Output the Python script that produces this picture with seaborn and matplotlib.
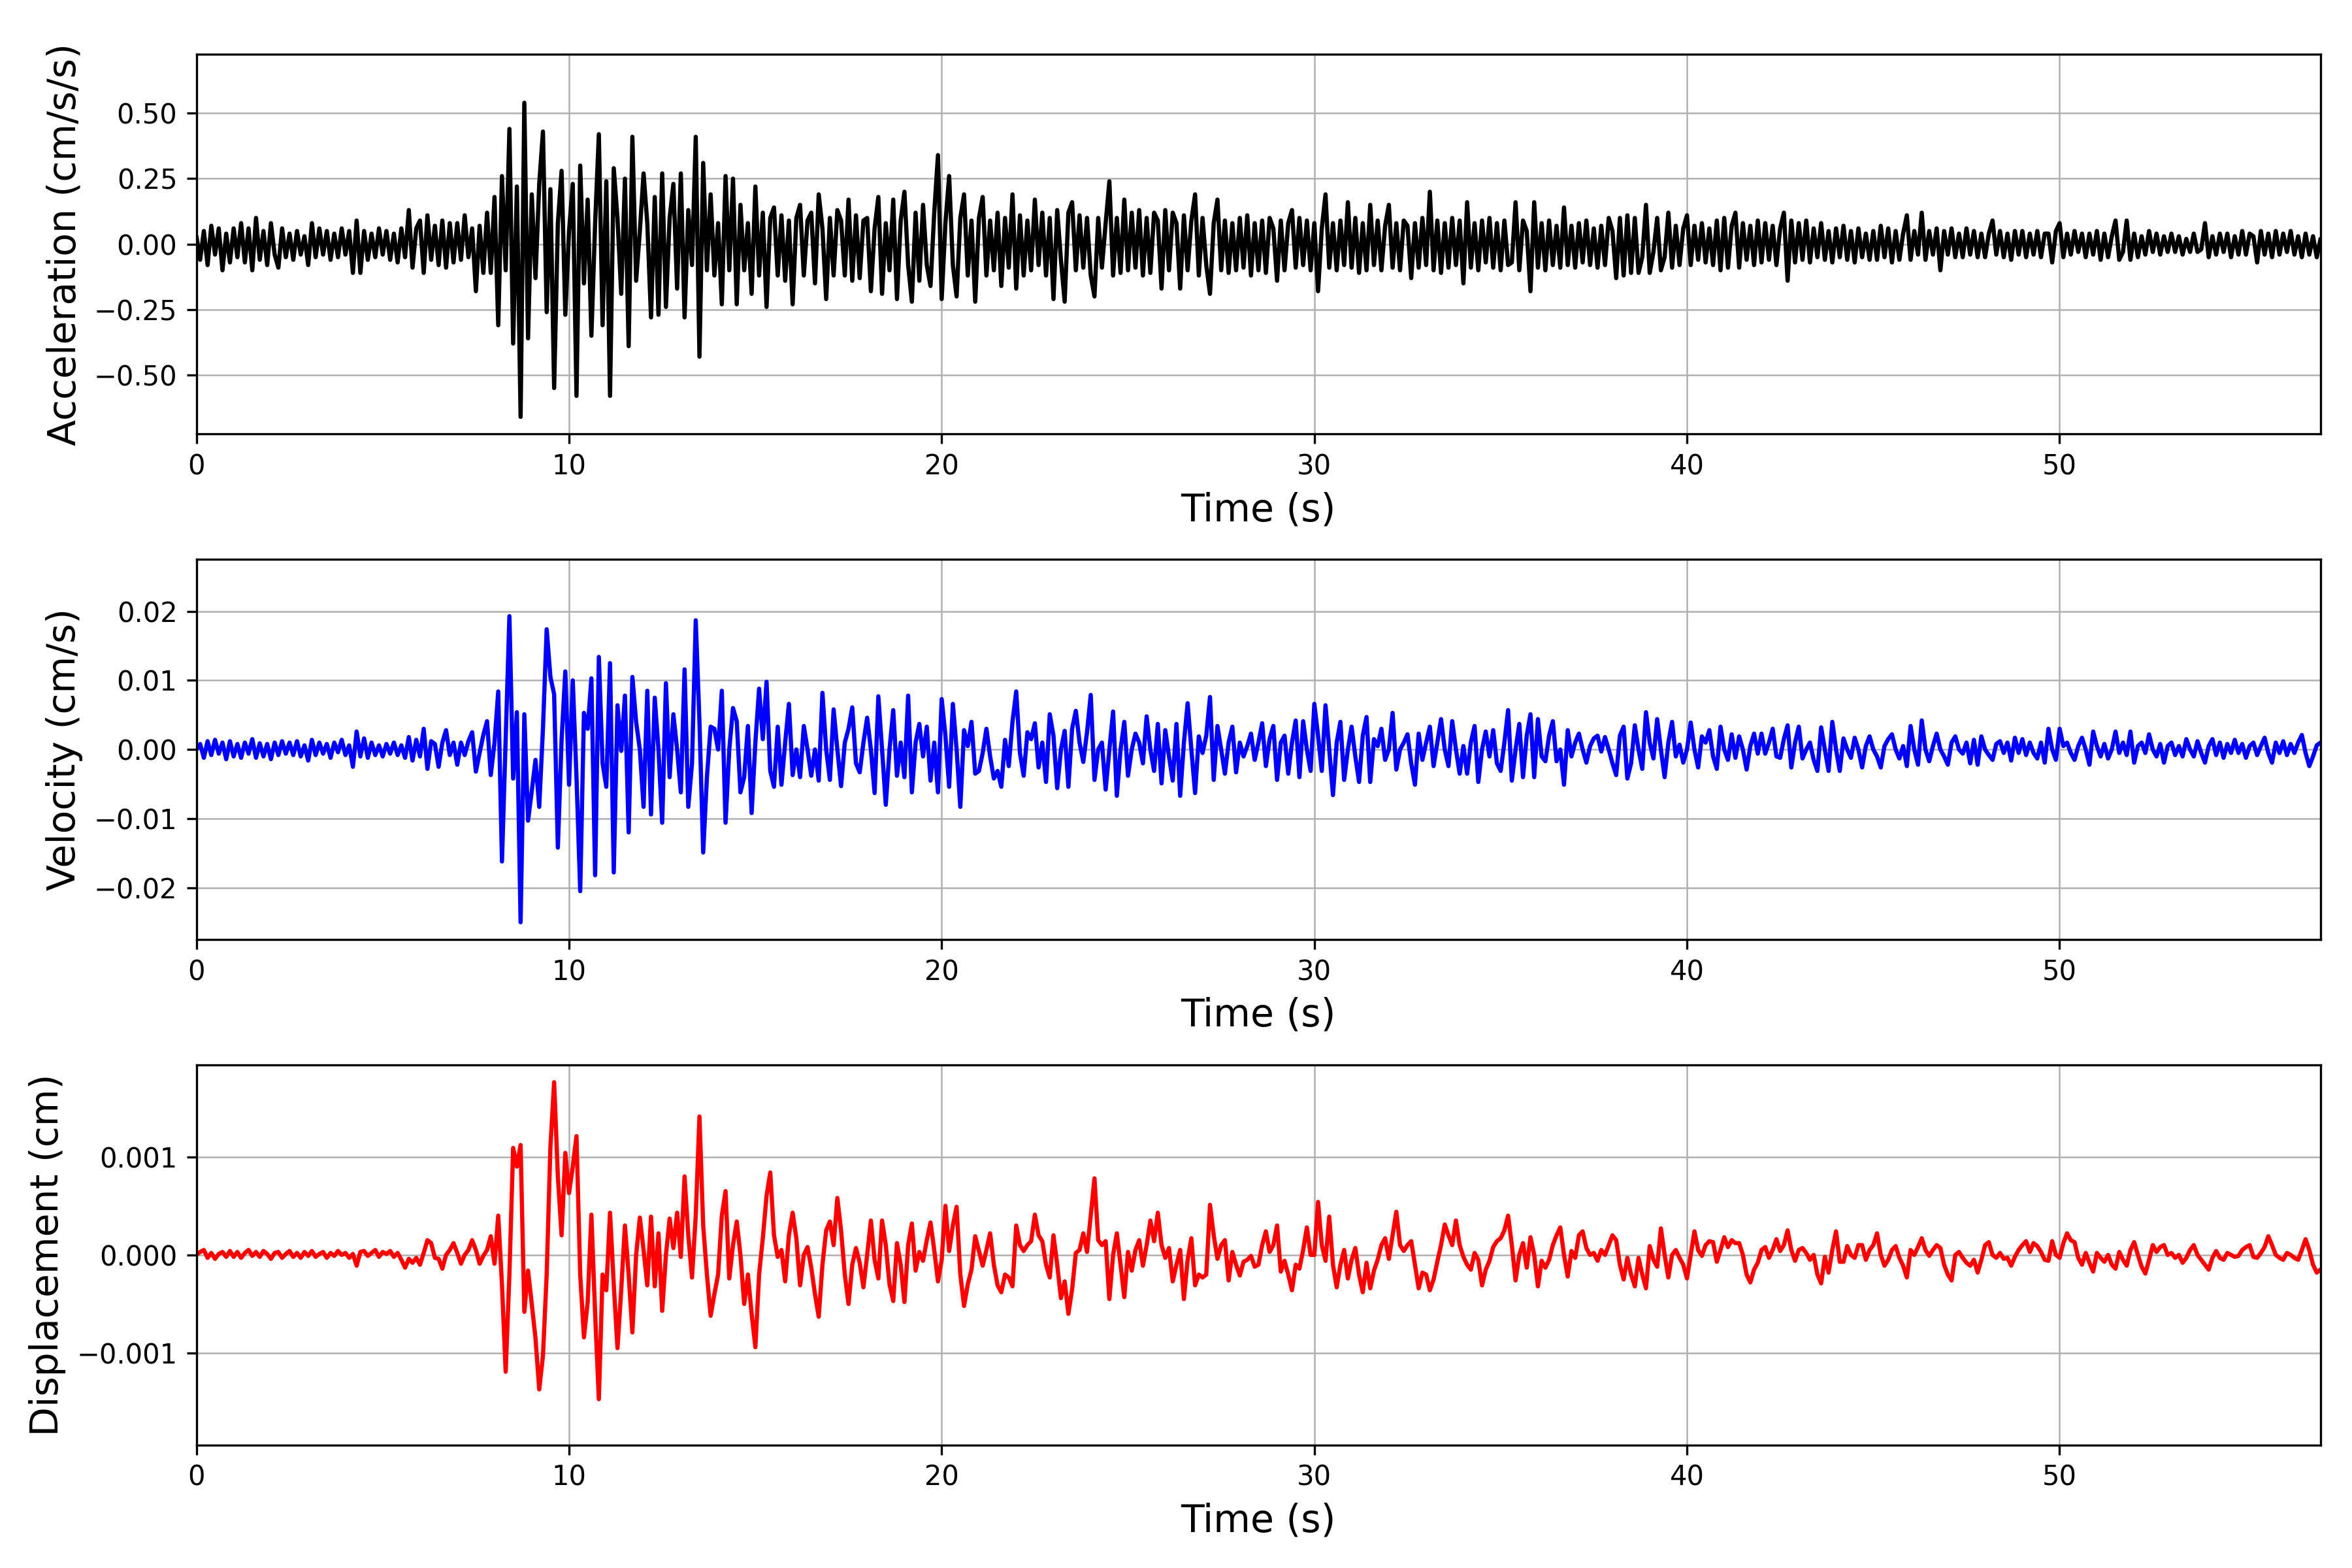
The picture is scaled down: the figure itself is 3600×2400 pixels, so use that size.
import numpy as np
import pandas as pd
import matplotlib
matplotlib.use("Agg")
import matplotlib.pyplot as plt
import seaborn as sns

DT = 0.1
CHUNK_STARTS = [0, 10, 20, 30, 40, 50]

# Acceleration, in units of 0.01 cm/s/s
ACC_UNIT = 0.01
acc_00_10 = [3, -6, 5, -8, 7, -4, 6, -10, 4, -7,
             6, -5, 8, -7, 6, -10, 10, -6, 5, -8,
             8, -4, -9, 6, -5, 4, -6, 5, -4, 3,
             -8, 8, -5, 6, -4, 5, -6, 4, -5, 6,
             -4, 5, -11, 9, -11, 5, -6, 4, -5, 6,
             -4, 5, -6, 4, -7, 6, -5, 13, -9, 6,
             9, -11, 11, -6, 7, -8, 9, -9, 8, -7,
             8, -6, 11, -5, 6, -18, 7, -11, 12, -11,
             18, -31, 26, -10, 44, -38, 22, -66, 54, -36,
             19, -13, 23, 43, -26, 21, -55, 8, 28, -27]
acc_10_20 = [5, 23, -58, 30, -15, 17, -35, 8, 42, -31,
             24, -58, 29, 10, -19, 25, -39, 41, -14, 5,
             27, 8, -28, 18, -27, 27, -24, 10, 23, -17,
             27, -28, 13, -8, 41, -43, 31, -10, 19, -12,
             8, -23, 26, -10, 25, -23, 15, -10, 8, -19,
             22, -12, 12, -24, 10, 14, -12, 11, -14, 9,
             -23, 10, 15, -12, 9, 12, -15, 19, 6, -21,
             10, -12, 13, 9, -12, 17, -14, 11, -13, 9,
             10, -18, 6, 18, -19, 8, -10, 17, -21, 9,
             20, -8, -22, 12, -14, 15, -8, -16, 12, 34]
acc_20_30 = [-21, 8, 26, -8, -20, 10, 19, -12, 9, -22,
             10, 18, -12, 9, -10, 12, -16, 10, -9, 19,
             -17, 11, -12, 9, -10, 17, -8, 12, -12, 10,
             -21, 13, -6, -22, 12, 16, -10, 11, -9, 10,
             -12, -20, 10, -9, 8, 24, -12, 10, -11, 17,
             -10, 12, -9, 13, -12, 10, -11, 12, 9, -17,
             13, -10, 12, 8, -17, 11, -10, 9, 19, -12,
             10, -8, -19, 8, 17, -10, 9, -11, 8, -10,
             10, -9, 11, -12, 8, -10, 9, -11, 10, 6,
             -14, 9, -10, 8, 13, -9, 10, -8, 9, -10]
acc_30_40 = [8, -18, 6, 19, -9, 8, -10, 9, -8, 16,
             -9, 10, -11, 8, -10, 15, -8, 9, -10, 7,
             15, -9, 8, -10, 9, 7, -13, 8, -9, 10,
             -8, 20, -10, 9, -11, 8, -9, 10, -8, 9,
             -15, 16, -9, 8, -10, 9, -7, 10, -9, 8,
             -10, 9, -8, -7, 16, -10, 9, 5, -18, 16,
             -9, 8, -10, 9, -8, 7, -9, 14, -8, 7,
             -9, 8, -7, 9, -8, 6, -9, 7, -8, 10,
             5, -13, 10, -12, 11, -11, 10, -11, -5, 15,
             -11, -3, 10, -10, -5, 12, -9, 7, -8, 6]
acc_40_50 = [11, -8, 7, -6, 8, -7, 6, -8, 9, -10,
             10, -9, 7, 12, -9, 8, -6, 7, -8, 9,
             -7, 8, -6, 7, -8, 6, 12, -14, 9, -7,
             8, -6, 9, -7, 6, -5, 8, -6, 5, -7,
             6, -5, 7, -6, 5, -7, 6, -5, 4, -6,
             5, -6, 7, -5, 6, -7, 5, -6, 4, 11,
             -6, 5, -4, 12, -6, 5, -4, 6, -10, 5,
             -4, 6, -5, 4, -5, 6, -4, 5, -5, 4,
             -5, 4, 9, -4, 5, -5, 4, -6, 5, -4,
             5, -5, 4, -4, 5, -5, 4, 4, -7, 5]
acc_50_57 = [8, -5, 4, -4, 5, -3, 4, -5, 4, -4,
             5, -6, 4, -5, 3, 9, -6, -3, 9, -6,
             4, -5, 3, -4, 5, -3, 4, -4, 3, -3,
             4, -3, 3, -4, 2, -3, 4, -3, -2, 8,
             -5, 3, -4, 4, -3, 4, -5, 3, -4, 5,
             -4, 4, 3, -7, 5, -4, 4, -5, 5, -4,
             4, -3, 5, -4, 3, -5, 4, -4, 3, -5,
             2]

# Velocity, in units of 1e-4 cm/s
VEL_UNIT = 1e-4
vel_00_10 = [0, 8, -12, 12, -8, 14, -6, 10, -14, 12,
             -10, 8, -12, 10, -6, 15, -12, 9, -10, 8,
             -14, 10, -8, 12, -6, 10, -8, 12, -10, 6,
             -16, 14, -8, 10, -6, 8, -12, 10, -4, 14,
             -8, 6, -25, 26, -10, 16, -12, 10, -8, 6,
             -10, 8, -6, 10, -8, 6, -12, 18, -16, 14,
             -10, 30, -28, 12, 8, -25, 10, 28, -8, 10,
             -22, 10, -8, 12, 25, -32, -5, 21, 41, -37,
             10, 84, -162, 15, 193, -42, 54, -250, 51, -103,
             -60, -15, -83, 30, 174, 105, 80, -142, 14, 113]
vel_10_20 = [-51, 100, -40, -205, 53, 30, 103, -182, 134, -20,
             -54, 125, -178, 64, -2, 78, -120, 105, 40, 0,
             -83, 85, -94, 75, 0, -106, 96, -40, 51, 0,
             -62, 116, -83, -20, 187, 40, -149, -40, 33, 30,
             0, 85, -106, 0, 60, 41, -62, -40, 34, -92,
             10, 88, 15, 98, -31, -54, 33, -51, 10, 66,
             -37, 0, -40, 34, 0, -38, 0, -45, 82, 0,
             -44, 58, 0, -53, 10, 30, 61, -20, -33, 10,
             46, 0, -63, 77, 0, -80, 0, 57, -38, 10,
             -40, 78, -62, 10, 37, -10, 33, -45, 10, -62]
vel_20_30 = [73, 20, -54, 66, 0, -83, 28, 5, 40, -35,
             -31, -5, 30, -10, -42, -31, -54, 14, -24, 40,
             84, -5, -38, 25, 15, 38, -26, 10, -47, 51,
             20, -56, 0, 27, -54, 30, 56, 10, -18, 25,
             79, -44, 0, 10, -58, 0, 55, -67, 0, 40,
             -38, 0, 23, 10, -20, 48, 0, -31, 37, -49,
             28, -10, -45, 37, -67, 10, 67, 0, -63, 19,
             -5, 20, 76, -44, 34, 0, -35, 10, 33, -33,
             10, -10, 5, 23, -15, 10, 38, -24, 15, 34,
             -44, 10, 20, -35, 10, 42, -40, 41, 0, -31]
vel_30_40 = [66, 20, -31, 64, 0, -66, 10, 40, -44, 0,
             33, -10, -47, 20, 47, -47, 15, 5, 30, -15,
             0, 53, -29, 0, 10, 22, -20, -51, 23, -15,
             10, 33, -24, 10, 44, 0, -24, 41, 0, -35,
             5, -35, 10, 34, -47, 0, 26, -10, 28, -20,
             -31, 10, 57, -45, 0, 37, -40, 20, 51, -40,
             44, -10, -17, 20, 41, -17, 0, -51, 28, -10,
             10, 23, 0, -19, 5, 16, 20, -3, 18, 0,
             -20, -37, 20, 33, -42, -20, 35, 0, -28, 54,
             10, -13, 44, 0, -40, 10, 40, -10, 7, -19]
vel_40_50 = [0, 39, 0, -26, 19, 10, 28, -10, -28, 33,
             0, -15, 22, -12, 19, 0, -29, 5, 23, -6,
             23, -6, 10, 30, -10, -12, 15, 35, -26, 10,
             33, -13, 0, 10, -15, -31, 32, 0, -31, 40,
             0, -31, 16, 0, -12, 17, 0, -26, 5, 19,
             0, -10, -26, 5, 15, 22, 0, -13, 5, -24,
             34, 0, -22, 42, 0, -17, 5, 23, 0, -10,
             -22, 10, 19, 0, -6, 10, -20, 14, -22, 19,
             0, -8, -15, 8, 12, -5, 10, -16, 17, -5,
             15, -8, 10, -5, -13, 10, -19, 30, 0, -15]
vel_50_57 = [30, 5, 10, -5, -15, 5, 17, 0, -22, 26,
             5, -10, 8, -13, 0, 26, -5, 10, -8, 26,
             -19, 5, 10, -5, 22, 0, -10, 8, -19, 5,
             10, -8, 5, -10, 15, 0, -10, 12, -5, -19,
             5, 15, -8, 10, -12, 8, -5, 14, -5, 8,
             -12, 5, 10, -8, 5, 17, -5, -19, 10, -5,
             12, -8, 8, -5, 10, 21, -5, -24, -10, 6,
             10]

# Displacement, in units of 1e-5 cm
DISP_UNIT = 1e-5
disp_00_10 = [0, 3, 5, -3, 2, -4, 1, 3, -2, 4,
              -2, 3, -3, 2, 5, -1, 3, -2, 4, 1,
              -4, 2, 3, -3, 1, 4, -2, 2, -3, 3,
              -1, 4, -2, 1, 3, -3, 2, -1, 4, 0,
              2, -3, 1, -11, 3, 4, -1, 2, 5, -2,
              3, 1, 4, -2, 2, -5, -13, -4, -8, -3,
              -10, 2, 15, 12, -3, -4, -14, 0, 5, 12,
              2, -9, 0, 5, 15, 5, -9, -1, 5, 19,
              -9, 40, -30, -119, -20, 109, 90, 112, -58, -16,
              -50, -85, -137, -103, -20, 110, 176, 80, 20, 104]
disp_10_20 = [63, 90, 121, -20, -84, -48, 41, -60, -147, -20,
              -36, 43, -30, -95, -36, 30, -20, -79, 0, 38,
              5, -31, 39, -32, 22, -57, 0, 37, 7, 43,
              -2, 80, 20, -23, 40, 141, 30, -20, -62, -40,
              -20, 40, 65, -24, 10, 34, 0, -50, -20, -60,
              -94, -20, 17, 60, 84, 20, -2, 5, -27, 20,
              43, 17, -31, 0, 8, -13, -40, -63, -10, 25,
              34, 10, 58, 25, -20, -50, -10, 7, -8, -33,
              0, 35, -5, -24, 35, 10, -30, -47, 12, -10,
              -48, 10, 32, -16, 3, -6, 15, 33, 5, -27]
disp_20_30 = [-5, 50, 4, 30, 49, -20, -52, -30, -15, 19,
              4, -11, 5, 22, -10, -31, -38, -20, -23, -32,
              30, 10, 4, 10, 14, 41, 20, 14, -10, -23,
              20, -10, -44, -27, -60, -35, 2, 5, 22, 3,
              40, 78, 15, 10, 14, -45, 0, 22, -10, -43,
              3, -16, 5, 15, -11, 10, 35, 14, 43, 10,
              -3, 7, -27, -10, 5, -45, -5, 17, -31, -20,
              -23, -20, 51, 20, -4, 10, 15, -26, 3, -10,
              -21, -7, -5, -1, -12, -10, 10, 24, 3, 10,
              30, -17, -6, -20, -36, -10, -14, 5, 28, 0]
disp_30_40 = [0, 54, 10, -6, 39, -10, -33, -10, 5, -24,
              -5, 7, -20, -38, -8, -34, -16, -5, 10, 17,
              -4, 20, 44, 10, 4, 10, 14, -10, -34, -18,
              -20, -36, -25, -7, 10, 31, 20, 10, 35, 10,
              -2, -10, -15, 2, -5, -31, -15, -6, 8, 14,
              17, 25, 40, 10, -26, 0, 12, -13, 18, 0,
              -32, -6, -13, -5, 10, 20, 28, 0, -22, 4,
              -3, 20, 24, 7, 0, 2, -6, 5, 0, 10,
              20, 15, -10, -25, -3, -20, -32, -3, -20, -34,
              9, -5, -12, 27, 0, -23, 0, 5, -3, -10]
disp_40_50 = [-24, 0, 24, 5, -1, 10, 14, 13, -7, 5,
              18, 8, 15, 12, 12, 0, -20, -28, -15, -8,
              5, 8, -3, 5, 16, 4, 10, 25, 5, -6,
              5, 7, 2, -5, 0, -20, -29, -2, -18, 5,
              24, -7, -7, 9, 0, -3, 10, 10, -5, 5,
              10, 22, 0, -11, -5, 5, 9, -3, -11, -23,
              5, 0, 8, 17, 5, -1, 5, 10, 7, -10,
              -20, -26, 0, 3, -3, -8, -11, -5, -18, -5,
              10, 13, 0, -3, 2, -4, -3, -11, -2, 5,
              10, 14, 3, 12, 9, 3, -5, -6, 14, 0]
disp_50_57 = [-3, 12, 22, 15, 13, -3, -10, 2, -8, -17,
              2, -3, -7, 0, -10, -14, 3, -5, -11, 5,
              13, 0, -12, -19, -5, 10, 3, 8, 10, 0,
              2, -3, 0, -8, -3, 5, 10, 0, -5, -10,
              -15, -3, 4, -3, -5, 2, 0, -2, -1, 5,
              8, 10, -2, -3, 2, 8, 19, 10, 0, -3,
              -5, 2, 0, -3, -5, 5, 16, 5, -10, -18,
              -15]

X_TICKS = [0, 10, 20, 30, 40, 50]
PANELS = [
    ("Acceleration (cm/s/s)", "black",
     [acc_00_10, acc_10_20, acc_20_30, acc_30_40, acc_40_50, acc_50_57], ACC_UNIT),
    ("Velocity (cm/s)", "blue",
     [vel_00_10, vel_10_20, vel_20_30, vel_30_40, vel_40_50, vel_50_57], VEL_UNIT),
    ("Displacement (cm)", "red",
     [disp_00_10, disp_10_20, disp_20_30, disp_30_40, disp_40_50, disp_50_57], DISP_UNIT),
]


def build_frame(chunks, unit):
    times, vals = [], []
    for start, chunk in zip(CHUNK_STARTS, chunks):
        for i, v in enumerate(chunk):
            times.append(round(start + i * DT, 3))
            vals.append(v * unit)
    return pd.DataFrame({"Time": times, "Value": vals})


# ---------------- style ----------------
sns.set_theme(style="ticks", rc={
    "axes.edgecolor": "black",
    "axes.linewidth": 0.8,
    "axes.labelcolor": "black",
    "text.color": "black",
    "xtick.color": "black",
    "ytick.color": "black",
    "xtick.labelsize": 10,
    "ytick.labelsize": 10,
    "xtick.major.size": 3.5,
    "ytick.major.size": 3.5,
    "xtick.major.width": 0.8,
    "ytick.major.width": 0.8,
    "axes.labelsize": 14,
    "grid.color": "#b0b0b0",
    "grid.linewidth": 0.6,
})
plt.rcParams["font.family"] = ["DejaVu Sans"]

fig, axes = plt.subplots(3, 1, figsize=(12, 8), dpi=300)
fig.subplots_adjust(left=0.0835, right=0.9866, top=0.9655, bottom=0.0785, hspace=0.33)

for ax, (ylabel, color, chunks, unit) in zip(axes, PANELS):
    df = build_frame(chunks, unit)
    sns.lineplot(data=df, x="Time", y="Value", ax=ax, color=color,
                 linewidth=1.55, estimator=None, sort=False)
    lim = 1.1 * df["Value"].abs().max()
    ax.set_ylim(-lim, lim)
    ax.set_xlim(0, df["Time"].max())
    ax.set_xticks(X_TICKS)
    ax.grid(True, color="#b0b0b0", linewidth=0.6)
    ax.set_axisbelow(True)
    ax.set_xlabel("Time (s)", fontsize=14)
    ax.set_ylabel(ylabel, fontsize=14)
    for s in ax.spines.values():
        s.set_visible(True)
        s.set_color("black")
        s.set_linewidth(0.8)

fig.savefig("out.png", dpi=300)
